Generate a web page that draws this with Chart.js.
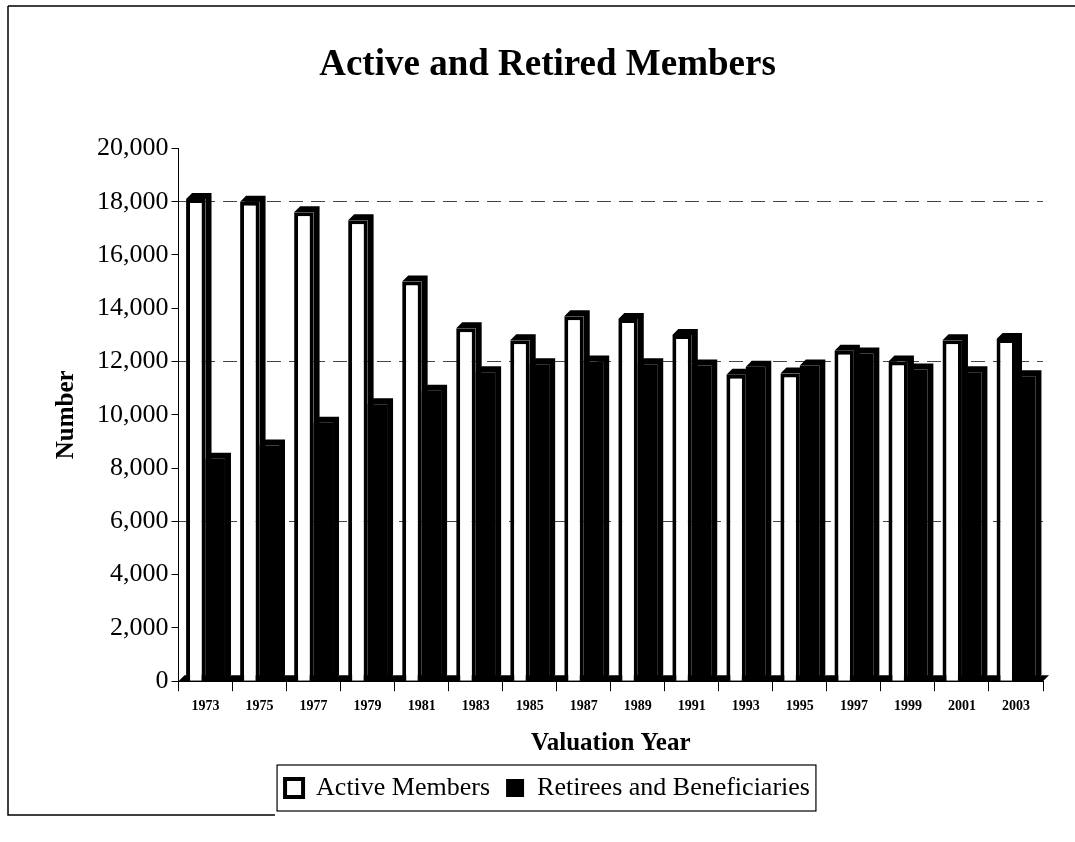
<!DOCTYPE html>
<html>
<head>
<meta charset="utf-8">
<script src="https://cdn.jsdelivr.net/npm/chart.js@4"></script>
<style>
  html, body { margin: 0; padding: 0; background: #fff; }
  #wrap { width: 1075px; height: 842px; }
</style>
</head>
<body>
<div id="wrap"><canvas id="membersChart" width="1075" height="842"></canvas></div>
<script>
// --- data ---
const years = ['1973', '1975', '1977', '1979', '1981', '1983', '1985', '1987',
               '1989', '1991', '1993', '1995', '1997', '1999', '2001', '2003'];
const activeMembers = [18100, 18000, 17600, 17300, 15000, 13250, 12800, 13700,
                       13600, 13000, 11500, 11550, 12400, 12000, 12800, 12850];
const retirees = [8350, 8850, 9700, 10400, 10900, 11600, 11900, 12000,
                  11900, 11850, 11800, 11850, 12300, 11700, 11600, 11450];
const yTicks = [0, 2000, 4000, 6000, 8000, 10000, 12000, 14000, 16000, 18000, 20000];

const serif = "'Liberation Serif', 'Times New Roman', serif";
const DEPTH = 6;

// --- 3D-ish depth for bars and floor ---
const depthPlugin = {
    id: 'depth',
    beforeDatasetsDraw(chart) {
        const { ctx, chartArea } = chart;
        const b = chartArea.bottom;
        ctx.save();
        ctx.fillStyle = '#000';
        ctx.beginPath();
        ctx.moveTo(chartArea.left, b);
        ctx.lineTo(chartArea.left + DEPTH, b - DEPTH);
        ctx.lineTo(chartArea.right + DEPTH, b - DEPTH);
        ctx.lineTo(chartArea.right, b);
        ctx.closePath();
        ctx.fill();
        ctx.restore();
    },
    afterDatasetsDraw(chart) {
        const { ctx } = chart;
        ctx.save();
        ctx.fillStyle = '#000';
        chart.data.datasets.forEach((ds, i) => {
            chart.getDatasetMeta(i).data.forEach(bar => {
                const l = bar.x - bar.width / 2;
                const r = bar.x + bar.width / 2;
                ctx.beginPath();
                ctx.moveTo(l, bar.y);
                ctx.lineTo(l + DEPTH, bar.y - DEPTH);
                ctx.lineTo(r + DEPTH, bar.y - DEPTH);
                ctx.lineTo(r + DEPTH, bar.base - DEPTH);
                ctx.lineTo(r, bar.base);
                ctx.lineTo(r, bar.y);
                ctx.closePath();
                ctx.fill();
            });
        });
        ctx.restore();
    }
};

// --- frame lines + box round the legend ---
const framePlugin = {
    id: 'frame',
    afterDraw(chart) {
        const { ctx } = chart;
        ctx.save();
        ctx.strokeStyle = '#000';
        ctx.lineWidth = 1.5;
        ctx.beginPath();
        ctx.moveTo(8, 6); ctx.lineTo(1075, 6);
        ctx.moveTo(8, 6); ctx.lineTo(8, 815);
        ctx.lineTo(275, 815);
        ctx.stroke();

        const hb = chart.legend.legendHitBoxes;
        if (hb && hb.length) {
            const left = Math.min(...hb.map(h => h.left)) - 8;
            const right = Math.max(...hb.map(h => h.left + h.width)) + 6;
            const top = Math.min(...hb.map(h => h.top)) - 10;
            const bottom = Math.max(...hb.map(h => h.top + h.height)) + 10;
            ctx.lineWidth = 1.2;
            ctx.strokeRect(left, top, right - left, bottom - top);
        }
        ctx.restore();
    }
};

new Chart(document.getElementById('membersChart'), {
    type: 'bar',
    data: {
        labels: years,
        datasets: [
            {
                label: 'Active Members',
                data: activeMembers,
                backgroundColor: '#fff',
                borderColor: '#000',
                borderWidth: 4,
                categoryPercentage: 0.72,
                barPercentage: 1.0
            },
            {
                label: 'Retirees and Beneficiaries',
                data: retirees,
                backgroundColor: '#000',
                borderColor: '#000',
                borderWidth: 0,
                categoryPercentage: 0.72,
                barPercentage: 1.0
            }
        ]
    },
    options: {
        responsive: false,
        animation: false,
        layout: { padding: { top: 43, left: 52, right: 32, bottom: 31 } },
        plugins: {
            title: {
                display: true,
                text: 'Active and Retired Members',
                color: '#000',
                font: { family: serif, size: 37, weight: 'bold' },
                padding: { top: 0, bottom: 61 }
            },
            legend: {
                position: 'bottom',
                labels: {
                    color: '#000',
                    font: { family: serif, size: 26 },
                    boxWidth: 18,
                    boxHeight: 18,
                    padding: 16
                }
            },
            tooltip: { enabled: false }
        },
        scales: {
            x: {
                grid: {
                    offset: true,
                    color: 'rgba(0,0,0,0)',
                    drawOnChartArea: false,
                    tickColor: '#000',
                    tickLength: 10
                },
                border: { color: '#000', width: 1 },
                ticks: {
                    color: '#000',
                    font: { family: serif, size: 14, weight: 'bold' },
                    padding: 7,
                    maxRotation: 0
                },
                title: {
                    display: true,
                    text: 'Valuation Year',
                    color: '#000',
                    font: { family: serif, size: 25, weight: 'bold' },
                    padding: { top: 7, bottom: 0 }
                }
            },
            y: {
                min: 0,
                max: 20000,
                afterBuildTicks: axis => { axis.ticks = yTicks.map(v => ({ value: v })); },
                grid: {
                    color: c => (c.tick && c.tick.value > 0 && c.tick.value % 6000 === 0) ? '#444' : 'rgba(0,0,0,0)',
                    lineWidth: 1,
                    tickColor: '#000',
                    tickLength: 7
                },
                border: { color: '#000', width: 1, dash: [14, 8] },
                ticks: {
                    color: '#000',
                    font: { family: serif, size: 26 },
                    padding: 3,
                    callback: v => v.toLocaleString('en-US')
                },
                title: {
                    display: true,
                    text: 'Number',
                    color: '#000',
                    font: { family: serif, size: 25, weight: 'bold' },
                    padding: { top: 0, bottom: 12 }
                }
            }
        }
    },
    plugins: [depthPlugin, framePlugin]
});
</script>
</body>
</html>
